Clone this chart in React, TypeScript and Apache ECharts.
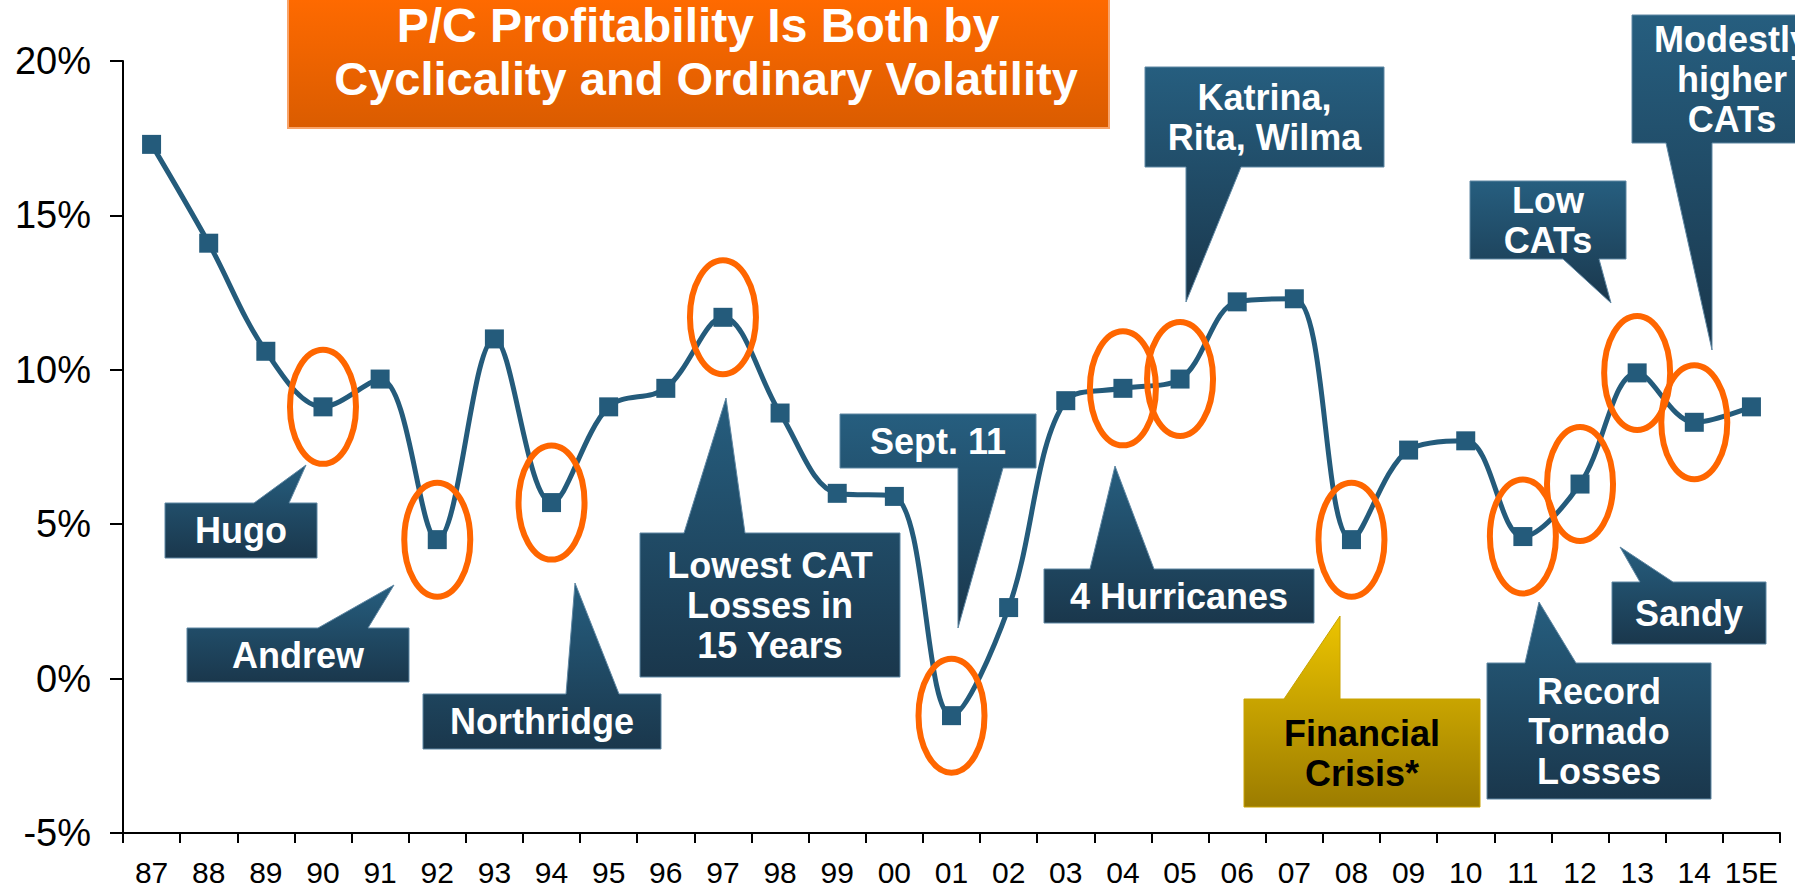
import React, { useEffect, useRef } from "react";
import * as echarts from "echarts";

// ---------- data ----------
const categories = [
  "87", "88", "89", "90", "91", "92", "93", "94", "95", "96", "97", "98", "99",
  "00", "01", "02", "03", "04", "05", "06", "07", "08", "09", "10", "11", "12",
  "13", "14", "15E",
];
const profitability = [
  17.3, 14.1, 10.6, 8.8, 9.7, 4.5, 11.0, 5.7, 8.8, 9.4, 11.7, 8.6, 6.0,
  5.9, -1.2, 2.3, 9.0, 9.4, 9.7, 12.2, 12.3, 4.5, 7.4, 7.7, 4.6, 6.3,
  9.9, 8.3, 8.8,
];
const circledYears = ["90", "92", "94", "97", "01", "04", "05", "08", "11", "12", "13", "14"];
const yMin = -5;
const yMax = 20;
const yStep = 5;

const titleLines = ["P/C Profitability Is Both by", "Cyclicality and Ordinary Volatility"];

// ---------- annotation layout (pixels) ----------
type Callout = {
  text: string;
  box: [number, number, number, number];
  side: "top" | "bottom";
  base: [number, number];
  tip: [number, number];
  gold?: boolean;
};
const callouts: Callout[] = [
  { text: "Hugo", box: [165, 503, 317, 558], side: "top", base: [254, 289], tip: [306, 465] },
  { text: "Andrew", box: [187, 628, 409, 682], side: "top", base: [318, 368], tip: [394, 585] },
  { text: "Northridge", box: [423, 694, 661, 749], side: "top", base: [566, 619], tip: [575, 583] },
  { text: "Lowest CAT\nLosses in\n15 Years", box: [640, 533, 900, 677], side: "top", base: [684, 745], tip: [726, 398] },
  { text: "Sept. 11", box: [840, 414, 1036, 468], side: "bottom", base: [958, 1003], tip: [958, 628] },
  { text: "4 Hurricanes", box: [1044, 569, 1314, 623], side: "top", base: [1090, 1154], tip: [1115, 466] },
  { text: "Katrina,\nRita, Wilma", box: [1145, 67, 1384, 167], side: "bottom", base: [1186, 1241], tip: [1186, 302] },
  { text: "Financial\nCrisis*", box: [1244, 699, 1480, 807], side: "top", base: [1284, 1340], tip: [1340, 616], gold: true },
  { text: "Low\nCATs", box: [1470, 181, 1626, 259], side: "bottom", base: [1563, 1599], tip: [1611, 303] },
  { text: "Modestly\nhigher\nCATs", box: [1632, 15, 1832, 143], side: "bottom", base: [1666, 1712], tip: [1712, 350] },
  { text: "Record\nTornado\nLosses", box: [1487, 663, 1711, 799], side: "top", base: [1525, 1576], tip: [1539, 602] },
  { text: "Sandy", box: [1612, 582, 1766, 644], side: "top", base: [1640, 1673], tip: [1620, 547] },
];

const FONT = '"Liberation Sans", Arial, Helvetica, sans-serif';
const LINE_COLOR = "#245B7B";
const ELLIPSE_COLOR = "#FF6600";

function calloutGraphics(c: Callout) {
  const [x1, y1, x2, y2] = c.box;
  const [b1, b2] = c.base;
  const pts =
    c.side === "top"
      ? [[x1, y1], [b1, y1], c.tip, [b2, y1], [x2, y1], [x2, y2], [x1, y2]]
      : [[x1, y1], [x2, y1], [x2, y2], [b2, y2], c.tip, [b1, y2], [x1, y2]];
  const fill = c.gold
    ? new echarts.graphic.LinearGradient(0, 0, 0, 1, [
        { offset: 0, color: "#ECC400" },
        { offset: 1, color: "#9C7C00" },
      ])
    : new echarts.graphic.LinearGradient(0, 0, 0, 1, [
        { offset: 0, color: "#265E7F" },
        { offset: 1, color: "#1A374C" },
      ]);
  return [
    {
      type: "polygon",
      z: 20,
      shape: { points: pts },
      style: { fill, stroke: c.gold ? "#C9A200" : "#5F87A3", lineWidth: 1 },
    },
    {
      type: "text",
      z: 21,
      x: (x1 + x2) / 2,
      y: (y1 + y2) / 2,
      style: {
        text: c.text,
        fill: c.gold ? "#000" : "#fff",
        font: `bold 36px ${FONT}`,
        align: "center",
        verticalAlign: "middle",
        lineHeight: 40,
      },
    },
  ];
}

export default function App() {
  const ref = useRef<HTMLDivElement>(null);

  useEffect(() => {
    if (!ref.current) return;
    const chart = echarts.init(ref.current, null, { renderer: "svg" });

    const circleData = circledYears.map((y) => {
      const i = categories.indexOf(y);
      return [i, profitability[i]];
    });

    const titleFill = new echarts.graphic.LinearGradient(0, 0, 0, 1, [
      { offset: 0, color: "#FF6A00" },
      { offset: 1, color: "#DA5C00" },
    ]);

    const graphics: any[] = [
      {
        type: "rect",
        z: 20,
        shape: { x: 288, y: -3, width: 821, height: 131 },
        style: { fill: titleFill, stroke: "#F9A46A", lineWidth: 2 },
      },
      {
        type: "text",
        z: 21,
        x: 698,
        y: 25,
        style: {
          text: titleLines[0],
          fill: "#fff",
          font: `bold 48px ${FONT}`,
          align: "center",
          verticalAlign: "middle",
        },
      },
      {
        type: "text",
        z: 21,
        x: 706,
        y: 78,
        style: {
          text: titleLines[1],
          fill: "#fff",
          font: `bold 47px ${FONT}`,
          align: "center",
          verticalAlign: "middle",
        },
      },
    ];
    callouts.forEach((c) => graphics.push(...calloutGraphics(c)));

    chart.setOption({
      animation: false,
      backgroundColor: "#ffffff",
      textStyle: { fontFamily: FONT },
      grid: { left: 123, right: 15, top: 61, bottom: 54, containLabel: false, outerBoundsMode: "none" },
      xAxis: {
        type: "category",
        data: categories,
        boundaryGap: true,
        axisLine: { show: true, onZero: false, lineStyle: { color: "#000", width: 2 } },
        axisTick: { show: true, length: 10, alignWithLabel: false, interval: 0, lineStyle: { color: "#000", width: 2 } },
        axisLabel: { color: "#000", fontSize: 30, fontFamily: FONT, margin: 24, interval: 0 },
        splitLine: { show: false },
      },
      yAxis: {
        type: "value",
        min: yMin,
        max: yMax,
        interval: yStep,
        axisLine: { show: true, lineStyle: { color: "#000", width: 2 } },
        axisTick: { show: true, length: 13, lineStyle: { color: "#000", width: 2 } },
        axisLabel: { color: "#000", fontSize: 38, fontFamily: FONT, margin: 32, formatter: "{value}%" },
        splitLine: { show: false },
      },
      series: [
        {
          type: "line",
          data: profitability,
          smooth: 0.35,
          symbol: "rect",
          symbolSize: 19,
          showAllSymbol: true,
          lineStyle: { color: LINE_COLOR, width: 5 },
          itemStyle: { color: LINE_COLOR },
          z: 2,
        },
        {
          type: "custom",
          data: circleData,
          z: 3,
          clip: false,
          renderItem: (params: any, api: any) => {
            const p = api.coord([api.value(0), api.value(1)]);
            return {
              type: "ellipse",
              shape: { cx: p[0], cy: p[1], rx: 33, ry: 57 },
              style: { fill: "none", stroke: ELLIPSE_COLOR, lineWidth: 6 },
            };
          },
        },
      ],
      graphic: graphics,
    });

    return () => chart.dispose();
  }, []);

  return (
    <div
      ref={ref}
      style={{ position: "fixed", left: 0, top: 0, width: 1795, height: 887, background: "#fff" }}
    />
  );
}
